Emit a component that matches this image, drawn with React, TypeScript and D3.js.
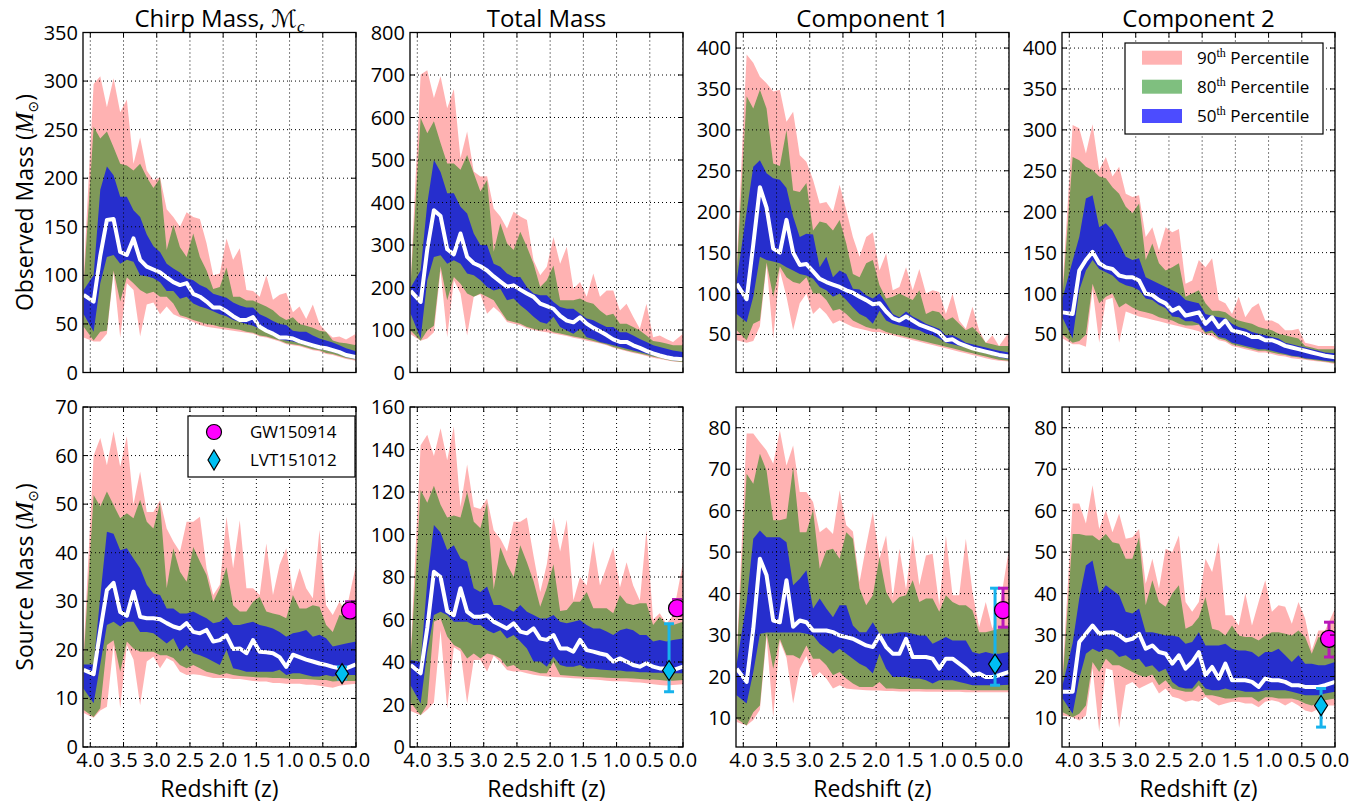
import React from "react";
import * as d3 from "d3";

// ---------- data ----------
const redshift = [4.1,3.95,3.85,3.75,3.65,3.55,3.45,3.35,3.25,3.15,3.05,2.95,2.85,2.75,2.65,2.55,2.45,2.35,2.25,2.15,2.05,1.95,1.85,1.75,1.65,1.55,1.45,1.35,1.25,1.15,1.05,0.95,0.85,0.75,0.65,0.55,0.45,0.35,0.25,0.15,0.0];
const xTickValues = [4.0,3.5,3.0,2.5,2.0,1.5,1.0,0.5,0.0];

const chirpObsMed = [80,73,120,157,158,124,121,138,116,109,106,103,98,93,90,92,81,78,73,67,67,63,58,54,54,57,47,43,40,36,36,35,32,30,28,26,25,23,21,18,16];
const chirpObsHi90 = [100,297,305,273,303,268,281,215,242,208,198,201,168,160,150,165,160,158,133,100,102,138,116,128,85,84,78,100,75,80,82,62,68,55,70,50,42,36,37,34,40];
const chirpObsHi80 = [90,253,241,248,232,215,213,208,215,201,190,200,126,152,129,119,143,119,105,86,88,108,78,78,74,74,71,68,64,58,54,57,50,48,46,43,42,33,31,30,28];
const chirpObsHi50 = [85,100,188,212,203,181,181,167,160,142,130,124,112,107,103,97,95,90,87,81,79,77,72,69,67,67,60,57,53,50,49,43,42,42,38,35,33,31,28,25,22];
const chirpObsLo50 = [60,42,92,119,121,112,116,114,100,99,97,93,84,84,76,78,71,68,66,63,60,58,54,52,50,48,45,43,38,34,33,32,30,28,26,24,23,21,19,16,14];
const chirpObsLo80 = [47,33,42,43,105,73,98,92,85,81,83,78,78,71,59,57,54,52,50,49,47,46,45,44,42,41,38,37,35,33,30,29,28,26,24,23,20,19,17,15,13];
const chirpObsLo90 = [36,32,32,40,103,36,92,85,37,70,72,60,68,60,57,55,52,49,47,46,45,44,43,42,41,40,37,36,34,32,29,28,27,25,23,22,19,18,16,14,12];

const totalObsMed = [192,166,290,382,368,290,278,327,272,257,250,240,226,214,202,205,195,186,178,162,156,150,133,122,118,130,115,105,97,88,78,72,72,64,58,51,45,40,36,33,31];
const totalObsHi90 = [220,701,711,646,697,622,667,504,567,473,461,462,386,367,339,378,367,359,264,229,249,319,256,296,197,213,178,233,178,193,193,146,162,131,103,162,83,87,79,72,91];
const totalObsHi80 = [210,599,563,591,540,492,492,477,512,469,426,453,284,351,304,288,331,296,256,201,217,252,170,170,170,174,166,162,146,134,138,115,115,107,99,87,74,72,68,64,64];
const totalObsHi50 = [200,240,398,500,472,422,422,390,374,327,300,300,256,249,233,225,225,201,186,182,182,166,154,150,150,138,127,123,115,107,107,95,95,87,79,72,64,60,56,52,48];
const totalObsLo50 = [138,80,217,272,276,256,264,256,233,229,217,201,193,197,170,174,158,146,131,119,115,131,107,99,91,103,83,79,72,68,64,60,56,52,48,44,40,36,32,29,27];
const totalObsLo80 = [99,75,99,110,250,170,225,209,186,178,186,178,170,146,123,119,115,107,103,99,103,95,92,88,85,82,78,74,70,66,60,56,52,48,45,41,37,34,30,27,25];
const totalObsLo90 = [90,75,80,95,240,83,217,186,87,178,184,138,154,140,119,115,111,104,100,97,95,92,89,86,82,79,75,72,68,64,58,54,50,46,43,39,35,32,29,26,24];

const comp1ObsMed = [112,93,160,230,205,155,150,190,150,135,136,127,118,114,111,108,104,101,96,92,87,88,78,70,67,72,67,62,59,56,52,43,44,39,36,33,31,29,27,25,23];
const comp1ObsHi90 = [135,392,382,365,357,347,349,310,322,269,261,239,210,212,200,233,202,169,145,169,175,128,149,104,108,132,104,130,100,104,102,75,100,67,57,84,55,40,49,36,53];
const comp1ObsHi80 = [125,341,326,349,326,259,256,300,226,224,235,177,188,186,177,190,161,124,120,137,141,110,94,96,100,96,92,104,75,79,77,67,71,63,55,59,51,40,38,36,36];
const comp1ObsHi50 = [116,200,255,263,247,241,239,229,194,169,173,172,132,145,120,128,124,106,105,98,94,100,88,75,71,78,72,68,63,60,57,49,49,45,40,38,36,34,32,30,28];
const comp1ObsLo50 = [75,65,96,145,141,139,137,132,128,124,122,118,108,104,96,100,92,83,75,71,63,79,67,63,61,59,57,55,51,49,45,40,38,36,34,32,29,27,25,22,20];
const comp1ObsLo80 = [55,43,63,67,138,96,133,120,114,112,120,100,100,92,79,81,75,67,63,59,57,57,53,51,49,47,45,43,41,39,37,35,33,31,29,27,25,23,21,19,18];
const comp1ObsLo90 = [43,40,42,60,135,45,128,96,55,88,100,75,83,75,63,67,63,59,57,55,53,53,51,49,47,45,43,41,39,37,35,33,31,29,27,25,23,21,19,18,17];

const comp2ObsMed = [77,75,128,141,151,137,132,130,122,120,120,116,100,98,92,88,79,83,73,75,77,63,71,59,67,55,53,51,47,47,43,43,40,36,34,32,30,28,26,24,22];
const comp2ObsHi90 = [110,306,302,271,307,251,267,243,255,222,218,220,169,181,153,181,175,179,112,116,141,132,143,92,88,75,96,71,83,88,67,67,63,55,55,57,40,38,36,36,36];
const comp2ObsHi80 = [100,267,263,255,251,243,241,230,222,206,198,210,141,161,137,128,132,137,96,100,104,88,79,79,77,71,67,65,63,59,57,55,51,49,47,45,36,34,32,32,32];
const comp2ObsHi50 = [95,140,169,216,220,181,186,177,161,145,141,143,120,116,112,108,104,100,92,90,88,75,73,71,70,63,59,57,53,51,49,47,45,40,38,36,34,32,30,28,27];
const comp2ObsLo50 = [70,45,104,128,141,130,126,122,114,110,108,104,94,92,86,82,72,71,66,66,63,53,55,47,45,40,38,36,34,32,32,30,28,26,24,23,21,20,19,18,17];
const comp2ObsLo80 = [50,40,42,50,112,88,96,100,83,88,83,79,77,75,71,69,67,63,61,61,62,51,52,45,43,38,36,34,32,30,30,28,26,25,23,22,20,19,18,17,15];
const comp2ObsLo90 = [45,38,38,35,105,40,92,95,40,78,75,72,70,68,66,64,62,60,58,56,54,50,48,43,41,36,34,32,30,28,28,26,24,23,21,20,19,18,17,16,14];

const chirpSrcMed = [15.9,15,24,32.3,33.8,27.8,27,32,26.8,26.5,26.5,26.3,25.5,24.8,24.4,25.5,23.7,23.4,24.1,21.7,22,23,20.2,20.3,19.3,22,19.6,19.5,19.3,18.5,16.5,19,18.5,18,17.6,17.2,16.9,16.5,16.2,16.2,17];
const chirpSrcHi90 = [20,60,63.6,58,65,57.7,64,50,56.7,48.4,48.4,50.8,45,42.3,40.2,46.4,46.4,47.4,36.8,31.3,33.4,47.4,36.8,46.7,32.7,32.7,31.3,41.9,31.3,37.5,40.9,32,36.8,32.7,30.6,44.7,29.2,27.2,29.9,27.9,37.5];
const chirpSrcHi80 = [18,51.9,49.5,52.6,49.8,47.1,48.1,47.1,50.9,46.4,45,50.2,32.7,40.9,36.1,34,41.2,38.2,35.4,29.9,32.7,37,29.2,27.9,27.9,29.9,30.9,27.9,27.5,27.2,26.5,31.3,28.5,28.5,29.2,28.9,25.1,23.7,27.2,26.8,26.5];
const chirpSrcHi50 = [17,17,31,44.3,43.9,40.5,40.9,38.8,36.8,33.4,31.6,31.3,28.5,28.5,27.5,27.5,27.9,27.2,26.5,25.5,25.8,26.8,25.1,25.1,25.5,25.8,25.1,24.8,24.4,23.7,22.7,23.4,23.7,24.1,22.7,23.1,22.4,20.7,21,21.3,21.7];
const chirpSrcLo50 = [12,9,17,25.1,25.8,24.8,25.8,25.8,23.7,23.7,23.4,22.4,21.3,22.4,19.6,21,19.3,18.9,18.3,17.6,16.9,20,16.2,15.9,15.5,15.5,15.5,15.5,15.5,15.9,14.8,15.2,15.2,14.8,14.5,14.5,14.8,14.5,14.8,14.8,14.8];
const chirpSrcLo80 = [7.6,6.2,8,21,22,15.5,21.7,20.3,19.6,19.6,19.6,18.9,18.9,18.3,16.9,16.2,16.9,16.2,15.5,15.2,14.8,15.2,14.8,14.6,14.5,14.4,14.3,14.3,14.2,14.2,14.1,14,14,14,13.9,13.8,13.8,13.5,13.6,13.6,13.6];
const chirpSrcLo90 = [7,6,7.5,8.3,21,8,21,18,8.6,17.6,18.6,16.2,18.3,17.6,15.5,14.8,15,14.8,14.5,14.2,14.2,14.2,14,14,13.8,13.6,13.5,13.5,13.2,13.2,13,13,13,12.8,12.8,12.6,12.4,12.2,12.6,12.8,13];

const totalSrcMed = [38.6,34.7,56,82.5,80,64,62,74.7,63.7,61.3,61.3,62,59,57.4,55.8,58.2,54.3,53.5,55.8,51,50.4,52.7,46.4,46.4,44.9,50.4,45.6,44.9,44,43.3,40.2,41.7,40.2,38.6,37.8,39.4,37.8,37,37,36.2,37.8];
const totalSrcHi90 = [45,142,147,137,150,135,151,113,133,113,112,117,102,98,92,106,106,108,90,73,86,108,92,107,69,80,76,97,76,85,94,75,87,76,69,102,60,63,58,62,87];
const totalSrcHi80 = [42,121,115,123,114,108,109,108,120,106,103,115,74,94,86,80,95,87,78,66,75,86,64,64.5,68.4,68.4,73,65.3,65.3,65.3,63,71.5,67.6,66.8,67.6,67.6,57.4,61.3,57.4,57.4,59];
const totalSrcHi50 = [41,40,78,104.5,101,92.7,95,88.8,87.2,74.7,73,75.5,66.8,66.8,65.3,63.7,66.8,63.7,62.1,60.5,60.5,62.1,59,58.2,59,59.8,57.4,55.8,55.8,54.3,52.7,55,55.8,55,52.7,52.7,49.6,50.4,49.6,50.4,51.1];
const totalSrcLo50 = [29,20.5,45,62.1,63.7,62.1,59,59,59,57.4,57.4,55,53.5,55,51.1,52.7,49.6,46.4,40.2,40.2,37.8,42.5,38.6,37.8,37.8,38.6,37,37,36.5,36.2,36,36,35.5,35.5,35.2,35.2,35,35,34.7,34.7,34.7];
const totalSrcLo80 = [21,15,20,59,60.5,52,48,46.4,41.7,44,41.7,44,43.3,41.7,37.8,38.6,36.2,36.2,35.5,34.7,34.7,40,33.9,33.6,33.4,33.2,33,33,32.8,32.6,32.5,32.4,32.3,32.2,32,31.8,31.8,31.5,31.2,31.2,31.5];
const totalSrcLo90 = [17,15,17.5,21,55,18,47,45,20.5,41,41,35.5,43,40,36.2,35.5,35.5,34.7,34,33.5,33.2,33,32.8,32.6,32.4,32.2,32,31.8,31.5,31.2,31,31,30.8,30.5,30.3,30,29.5,29.2,29,29.2,29.5];

const comp1SrcMed = [21.9,18.7,31.5,48.4,44.4,33.5,33.1,43.2,32,33.5,33.1,31.1,31.1,31.1,30.7,29.9,29.5,29.1,28.3,27.5,27.1,29.9,27.1,25.5,25.5,29.1,24.7,24.7,24.7,24.3,21.9,24.3,24.3,23.1,21.9,20.3,20.7,19.9,19.9,20.3,21.1];
const comp1SrcHi90 = [25,78.6,78.6,76.5,74.5,71.3,79.4,70.9,75.7,64.5,64.5,62.1,54.8,56,54.4,64.9,56.5,55,42.8,51.6,59.7,48.4,54,39,50.8,41,54,42,49.2,49.6,37.2,54,39.6,39.6,53.2,40.4,31.9,38,31.5,36,50.8];
const comp1SrcHi80 = [24,68.9,66.5,73.7,69.7,57.7,57.7,58.1,70.5,54.8,54.8,60.1,46,50.4,50.8,48.4,54.8,53.2,41.2,37.2,39.6,48.8,40.4,37.6,39.2,39.6,43.2,38,38.8,38.8,35.6,39.6,38,37.2,37.2,36,30.7,30.7,31.1,31.5,32.3];
const comp1SrcHi50 = [23,38,53.2,55.2,53.6,53.6,53.6,52.4,42,43.6,45.6,36.4,38.8,36.4,34.3,37.2,37.2,32.3,30.7,30.7,33.1,30.3,30.3,30.3,30.7,30.7,30.3,29.9,29.9,27.9,28.7,29.5,28.7,28.7,28.7,25.9,25.5,25.9,25.5,25.5,25.9];
const comp1SrcLo50 = [15.5,13.5,21,30.3,30.6,30.6,30.6,30.6,30.6,30.6,30.3,29.9,27.9,26.7,25.5,26.7,25.5,24.3,23.1,22.3,20.7,25.5,21.9,19.9,19.9,19.9,19.5,19.5,19.1,18.3,19.1,19.1,19.1,18.7,18.3,17.9,17.9,17.9,17.9,17.9,18];
const comp1SrcLo80 = [9.8,8.2,11.4,13,30.5,21.9,29.1,25.1,25.1,24.3,27.5,24.3,24.3,22.7,20.3,21.1,19.5,18.3,17.5,17.5,17.5,18.7,17.1,17.1,17,17,17,17,16.9,16.9,16.9,16.8,16.8,16.8,16.8,16.7,16.7,16.7,16.7,16.7,16.7];
const comp1SrcLo90 = [9,8.2,9.5,12,29.5,10.2,28.5,24.5,13.5,21.9,25,19.5,21.1,19.5,17.1,17.9,17.1,16.9,16.8,16.7,16.6,16.6,16.5,16.5,16.4,16.4,16.4,16.4,16.3,16.3,16.3,16.3,16.3,16.3,16.2,16.2,16.2,16.2,16.2,16.2,16.2];

const comp2SrcMed = [16.3,16.3,28.3,30.3,32.3,30.3,30.6,30.7,29.9,28.7,29.1,30.3,26.7,27.5,25.9,25.5,23.1,25.1,21.9,23.5,25.9,20.3,22.3,19.5,23.1,19.1,19.1,19.1,18.7,17.5,19.5,19.1,19.1,18.7,17.9,17.9,17.5,17.5,17.5,17.9,18.7];
const comp2SrcHi90 = [21,61.7,61.7,56.9,66.1,55.6,60.1,54.8,59.3,53.2,53.6,55.6,42.4,48.4,41.2,50.8,50,54,38,35.6,38,48.4,45.2,52.4,34.8,34.8,32.3,40,32.3,38,43.2,35.6,37.2,36.8,32.7,38,34,26.3,31.1,31.1,36.4];
const comp2SrcHi80 = [19,54.4,54.4,54,54,52.8,54.4,52.4,52,48.4,48.4,53.6,37.2,43.2,38,36.8,40,42,31.5,32.3,34.3,39.2,31.5,31.1,29.9,32.3,29.9,29.5,29.5,28.7,29.9,30.7,30.7,30.3,29.9,31.1,29.5,25.5,29.5,29.1,29.1];
const comp2SrcHi50 = [18,28,38.8,46.8,48,40,42,40.8,39.6,35.6,35.2,36.4,30.7,30.7,30.3,29.9,29.9,29.5,27.9,28.3,30.7,27.5,27.5,27.5,27.9,26.7,26.3,26.3,25.9,24.7,25.9,25.9,26.7,25.1,23.5,25.1,23.1,23.1,22.7,22.7,23.5];
const comp2SrcLo50 = [14.7,11,19.5,25.5,26.7,25.9,26.7,26.3,24.7,25.1,23.9,24.3,22.3,22.7,21.1,21.9,18.7,17.5,17.1,17.1,19.1,17.1,16.7,16.7,17.1,16.7,16.7,16.3,16.3,16.3,16.7,16.7,16.7,16.7,16.3,15.9,15.5,15.5,15.5,15.9,16.3];
const comp2SrcLo80 = [11.4,10.2,11,13,23.5,21.1,24.3,22.7,22.7,21.9,21.1,20.3,19.9,20.5,17.9,19.1,17.1,16.7,16.3,16.3,17.9,15.5,15.5,15.1,14.7,14.7,15,15,15,13.9,15,15,14.7,14.7,14.7,14.3,13.5,13,13.5,14.3,14.7];
const comp2SrcLo90 = [10.6,10.2,9.4,10.6,22,6.8,22,21.5,7.6,17.9,18.7,17.1,17.9,18.7,15.9,17.1,15.1,14.7,13.9,14.3,13.9,15.1,13.9,13,13.5,13.9,13.9,13.5,13.5,12.6,13.9,14.3,13.9,13,13.9,13,11.8,11.4,12.2,13,13];

// events: [value, low, high]
const gw150914 = { z: 0.09, chirp: [28.1, 26.6, 29.9], total: [65.3, 61.9, 69.4], m1: [36, 31.9, 41.3], m2: [29.1, 24.7, 33.1] };
const lvt151012 = { z: 0.21, chirp: [15.1, 14.0, 16.5], total: [36, 26, 58], m1: [23, 17.9, 41.3], m2: [13, 7.8, 17.1] };

const yTicksChirpObs = [0,50,100,150,200,250,300,350];
const yTicksTotalObs = [0,100,200,300,400,500,600,700,800];
const yTicksCompObs = [50,100,150,200,250,300,350,400];
const yTicksChirpSrc = [0,10,20,30,40,50,60,70];
const yTicksTotalSrc = [0,20,40,60,80,100,120,140,160];
const yTicksCompSrc = [10,20,30,40,50,60,70,80];

const legendLabels = ["90", "80", "50"];

// ---------- layout ----------
const colLefts = [83, 410, 736, 1062];
const rowTops = [32.5, 407];
const PW = 273, PH = 340;
const FONT = "'Open Sans', sans-serif";
const C90 = "rgba(255,0,0,0.3)", C80 = "rgba(0,128,0,0.5)", C50 = "rgba(0,0,255,0.7)";

const panels = [
  { col: 0, row: 0, domain: [0, 350], ticks: yTicksChirpObs, s: [chirpObsLo90, chirpObsHi90, chirpObsLo80, chirpObsHi80, chirpObsLo50, chirpObsHi50, chirpObsMed] },
  { col: 1, row: 0, domain: [0, 800], ticks: yTicksTotalObs, s: [totalObsLo90, totalObsHi90, totalObsLo80, totalObsHi80, totalObsLo50, totalObsHi50, totalObsMed] },
  { col: 2, row: 0, domain: [3.5, 419], ticks: yTicksCompObs, s: [comp1ObsLo90, comp1ObsHi90, comp1ObsLo80, comp1ObsHi80, comp1ObsLo50, comp1ObsHi50, comp1ObsMed] },
  { col: 3, row: 0, domain: [3.5, 419], ticks: yTicksCompObs, s: [comp2ObsLo90, comp2ObsHi90, comp2ObsLo80, comp2ObsHi80, comp2ObsLo50, comp2ObsHi50, comp2ObsMed] },
  { col: 0, row: 1, domain: [0, 70], ticks: yTicksChirpSrc, s: [chirpSrcLo90, chirpSrcHi90, chirpSrcLo80, chirpSrcHi80, chirpSrcLo50, chirpSrcHi50, chirpSrcMed], ev: "chirp" },
  { col: 1, row: 1, domain: [0, 160], ticks: yTicksTotalSrc, s: [totalSrcLo90, totalSrcHi90, totalSrcLo80, totalSrcHi80, totalSrcLo50, totalSrcHi50, totalSrcMed], ev: "total" },
  { col: 2, row: 1, domain: [3, 85], ticks: yTicksCompSrc, s: [comp1SrcLo90, comp1SrcHi90, comp1SrcLo80, comp1SrcHi80, comp1SrcLo50, comp1SrcHi50, comp1SrcMed], ev: "m1" },
  { col: 3, row: 1, domain: [3, 85], ticks: yTicksCompSrc, s: [comp2SrcLo90, comp2SrcHi90, comp2SrcLo80, comp2SrcHi80, comp2SrcLo50, comp2SrcHi50, comp2SrcMed], ev: "m2" },
];

function diamondPath(cx: number, cy: number, hw: number, hh: number) {
  return `M${cx},${cy - hh}L${cx + hw},${cy}L${cx},${cy + hh}L${cx - hw},${cy}Z`;
}

function ErrBar({ x, y0, y1, color }: any) {
  return (
    <g stroke={color} strokeWidth={3}>
      <line x1={x} x2={x} y1={y0} y2={y1} />
      <line x1={x - 5} x2={x + 5} y1={y0} y2={y0} />
      <line x1={x - 5} x2={x + 5} y1={y1} y2={y1} />
    </g>
  );
}

function Panel({ p, k }: any) {
  const left = colLefts[p.col];
  const top = rowTops[p.row];
  const right = left + PW, bottom = top + PH;
  const x = d3.scaleLinear().domain([4.11, 0]).range([left, right]);
  const y = d3.scaleLinear().domain(p.domain).range([bottom, top]);
  const [lo90, hi90, lo80, hi80, lo50, hi50, med] = p.s;
  const band = (lo: number[], hi: number[]) =>
    d3.area<number>().x((_, i) => x(redshift[i])).y0((_, i) => y(lo[i])).y1((d) => y(d))(hi) || "";
  const line = d3.line<number>().x((_, i) => x(redshift[i])).y((d) => y(d))(med) || "";
  const clip = `clip${k}`;
  const gw = p.ev ? (gw150914 as any)[p.ev] : null;
  const lvt = p.ev ? (lvt151012 as any)[p.ev] : null;
  return (
    <g>
      <defs>
        <clipPath id={clip}><rect x={left} y={top} width={PW} height={PH} /></clipPath>
      </defs>
      <g clipPath={`url(#${clip})`}>
        <path d={band(lo90, hi90)} fill={C90} />
        <path d={band(lo80, hi80)} fill={C80} />
        <path d={band(lo50, hi50)} fill={C50} />
        <path d={line} fill="none" stroke="#fff" strokeWidth={4} strokeLinejoin="round" />
        {xTickValues.map((t) => (
          <line key={"gx" + t} x1={x(t)} x2={x(t)} y1={top} y2={bottom} stroke="#000" strokeWidth={1} strokeDasharray="1,3" />
        ))}
        {p.ticks.map((t: number) => (
          <line key={"gy" + t} x1={left} x2={right} y1={y(t)} y2={y(t)} stroke="#000" strokeWidth={1} strokeDasharray="1,3" />
        ))}
        {gw && (
          <g>
            <ErrBar x={x(lvt151012.z)} y0={y(lvt[1])} y1={y(lvt[2])} color="#17b3ec" />
            <path d={diamondPath(x(lvt151012.z), y(lvt[0]), 6.5, 10)} fill="#00bff2" stroke="#000" strokeWidth={1.2} />
            <ErrBar x={x(gw150914.z)} y0={y(gw[1])} y1={y(gw[2])} color="#b818b8" />
            <circle cx={x(gw150914.z)} cy={y(gw[0])} r={8.5} fill="#ff00ff" stroke="#000" strokeWidth={1.2} />
          </g>
        )}
      </g>
      <rect x={left} y={top} width={PW} height={PH} fill="none" stroke="#000" strokeWidth={1.3} />
      {xTickValues.map((t) => (
        <g key={"tx" + t} stroke="#000" strokeWidth={1}>
          <line x1={x(t)} x2={x(t)} y1={bottom} y2={bottom - 5} />
          <line x1={x(t)} x2={x(t)} y1={top} y2={top + 5} />
        </g>
      ))}
      {p.ticks.map((t: number) => (
        <g key={"ty" + t} stroke="#000" strokeWidth={1}>
          <line x1={left} x2={left + 5} y1={y(t)} y2={y(t)} />
          <line x1={right} x2={right - 5} y1={y(t)} y2={y(t)} />
        </g>
      ))}
      {p.ticks.map((t: number) => (
        <text key={"ly" + t} x={left - 5} y={y(t) + 7} textAnchor="end" fontSize={20} fontFamily={FONT} fill="#000">{t}</text>
      ))}
      {p.row === 1 && xTickValues.map((t) => (
        <text key={"lx" + t} x={x(t)} y={bottom + 20} textAnchor="middle" fontSize={20} fontFamily={FONT} fill="#000">{d3.format(".1f")(t)}</text>
      ))}
      {p.row === 1 && (
        <text x={left + PW / 2} y={797} textAnchor="middle" fontSize={23} fontFamily={FONT}>Redshift (z)</text>
      )}
    </g>
  );
}

function MassLabel({ label, cy }: any) {
  return (
    <text transform={`translate(33,${cy}) rotate(-90)`} textAnchor="middle" fontSize={23} fontFamily={FONT}>
      {label} (
      <tspan fontFamily="'Liberation Serif', serif" fontStyle="italic" fontSize={25}>M</tspan>
      <tspan fontFamily="'DejaVu Sans', sans-serif" fontSize={14} dy={5}>⊙</tspan>
      <tspan dy={-5}>)</tspan>
    </text>
  );
}

export default function App() {
  const titleY = 27;
  const colCenter = (c: number) => colLefts[c] + PW / 2;
  const legX = 1125, legY = 43;
  const legRows = [57.7, 86.7, 116];
  const legColors = [C90, C80, C50];
  return (
    <svg width={1372} height={808} style={{ position: "absolute", left: 0, top: 0, background: "#fff" }}>
      <rect x={0} y={0} width={1372} height={808} fill="#fff" />
      {panels.map((p, k) => <Panel key={k} p={p} k={k} />)}

      <text x={colCenter(0)} y={titleY} textAnchor="middle" fontSize={24} fontFamily={FONT}>
        Chirp Mass,{" "}
        <tspan fontFamily="'DejaVu Serif', 'DejaVu Sans', serif" fontStyle="italic">ℳ</tspan>
        <tspan fontFamily="'Liberation Serif', serif" fontStyle="italic" fontSize={17} dy={5}>c</tspan>
      </text>
      <text x={colCenter(1)} y={titleY} textAnchor="middle" fontSize={24} fontFamily={FONT}>Total Mass</text>
      <text x={colCenter(2)} y={titleY} textAnchor="middle" fontSize={24} fontFamily={FONT}>Component 1</text>
      <text x={colCenter(3)} y={titleY} textAnchor="middle" fontSize={24} fontFamily={FONT}>Component 2</text>

      <MassLabel label="Observed Mass" cy={202.5} />
      <MassLabel label="Source Mass" cy={577} />

      <rect x={legX} y={legY} width={198} height={91} fill="#fff" stroke="#000" strokeWidth={1.2} />
      {legendLabels.map((l, i) => (
        <g key={l}>
          <rect x={1142} y={legRows[i] - 7} width={40} height={14} fill={legColors[i]} />
          <text x={1197} y={legRows[i] + 6} fontSize={17} fontFamily={FONT}>
            {l}
            <tspan fontFamily="'Liberation Serif', serif" fontSize={12} dy={-7}>th</tspan>
            <tspan dy={7}> Percentile</tspan>
          </text>
        </g>
      ))}

      <rect x={188} y={416} width={167} height={61} fill="#fff" stroke="#000" strokeWidth={1.2} />
      <circle cx={214} cy={432} r={7.5} fill="#ff00ff" stroke="#000" strokeWidth={1.2} />
      <path d={diamondPath(214, 460, 6, 10)} fill="#00bff2" stroke="#000" strokeWidth={1.2} />
      <text x={250} y={438} fontSize={17} fontFamily={FONT}>GW150914</text>
      <text x={250} y={466} fontSize={17} fontFamily={FONT}>LVT151012</text>
    </svg>
  );
}
